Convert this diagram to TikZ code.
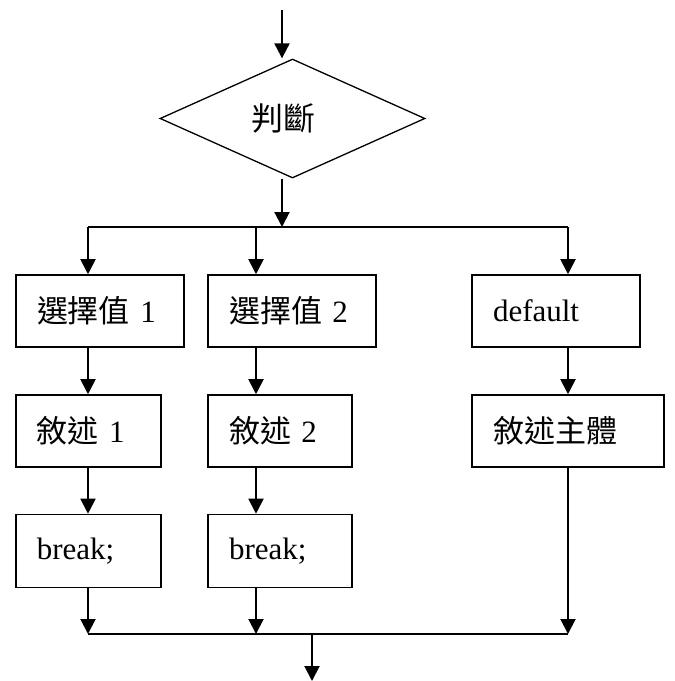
\documentclass[tikz,border=0pt]{standalone}
\usepackage{fontspec}
\setmainfont{Liberation Serif}
\newfontfamily\cjk{Noto Sans CJK TC}
\usetikzlibrary{shapes.geometric,arrows.meta}
\begin{document}
\begin{tikzpicture}[x=1pt,y=-1pt,
  flow/.style={line width=2pt,-{Triangle[length=15pt,width=15pt]}},
  bus/.style={line width=2pt},
  stepbox/.style={draw,line width=1.6pt,minimum height=72pt,inner xsep=21pt,inner ysep=0pt,
     align=left,font=\fontsize{31pt}{34pt}\selectfont},
  decide/.style={draw,shape=diamond,line width=1.3pt,minimum width=265pt,minimum height=119pt,inner sep=0pt}
]
\useasboundingbox (0,0) rectangle (675,681);
% column coordinates
\coordinate (top) at (282,10);
\coordinate (c1) at (88,227);
\coordinate (c2) at (256,227);
\coordinate (c3) at (568,227);
\coordinate (d1) at (88,634);
\coordinate (d2) at (256,634);
\coordinate (d3) at (568,634);
\coordinate (out) at (312,634);
\coordinate (end) at (312,681);

\node[decide,label={[xshift=-9pt,font=\fontsize{32pt}{34pt}\selectfont\cjk]center:判斷}] (dec) at (292.5,118.5) {};

\node[stepbox,text width=126pt] (v1) at (100,311) {{\cjk 選擇值} 1};
\node[stepbox,text width=126pt] (v2) at (292,311) {{\cjk 選擇值} 2};
\node[stepbox,text width=126pt] (vd) at (556,311) {default};

\node[stepbox,text width=103pt] (s1) at (88.3,431) {{\cjk 敘述} 1};
\node[stepbox,text width=102pt] (s2) at (280,431) {{\cjk 敘述} 2};
\node[stepbox,text width=150pt] (sd) at (568,431) {\cjk 敘述主體};

\node[stepbox,text width=103pt,minimum height=73pt] (b1) at (88.3,551) {break;};
\node[stepbox,text width=102pt,minimum height=73pt] (b2) at (280,551) {break;};

% top
\draw[flow] (top) -- (top |- dec.north);
\draw[flow] (dec.south -| top) -- (top |- c1);
\draw[bus] (c1) -- (c3);
\draw[flow] (c1) -- (c1 |- v1.north);
\draw[flow] (c2) -- (c2 |- v2.north);
\draw[flow] (c3) -- (c3 |- vd.north);

\draw[flow] (v1.south -| c1) -- (s1.north -| c1);
\draw[flow] (v2.south -| c2) -- (s2.north -| c2);
\draw[flow] (vd.south -| c3) -- (sd.north -| c3);

\draw[flow] (s1.south -| c1) -- (b1.north -| c1);
\draw[flow] (s2.south -| c2) -- (b2.north -| c2);

\draw[flow] (b1.south -| c1) -- (d1);
\draw[flow] (b2.south -| c2) -- (d2);
\draw[flow] (sd.south -| c3) -- (d3);
\draw[bus] (d1) -- (d3);
\draw[flow] (out) -- (end);
\end{tikzpicture}
\end{document}
